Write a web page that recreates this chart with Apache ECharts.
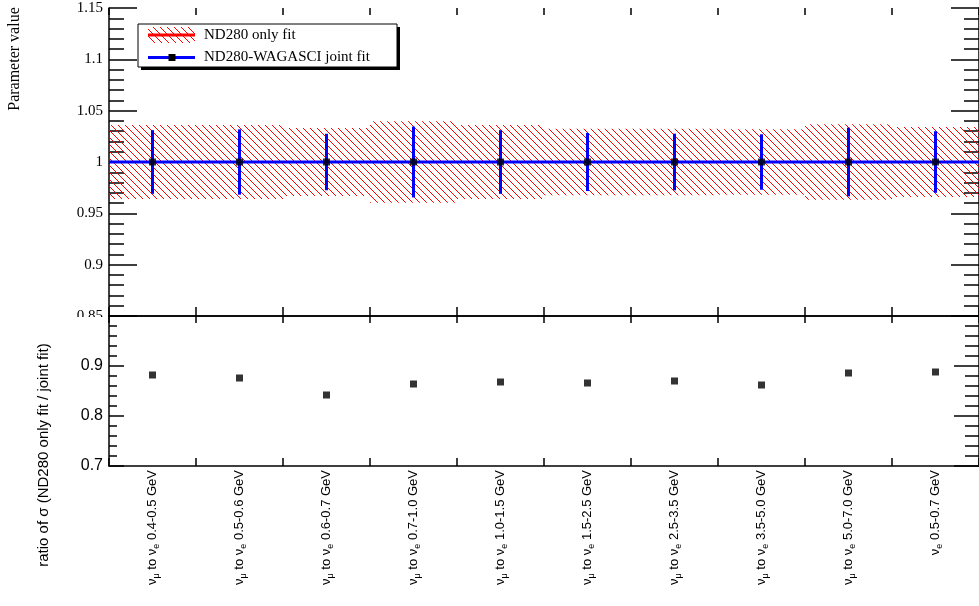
<!DOCTYPE html>
<html>
<head>
<meta charset="utf-8">
<script src="https://cdn.jsdelivr.net/npm/echarts@6/dist/echarts.min.js"></script>
<style>
html,body{margin:0;padding:0;background:#fff;}
#chart{width:979px;height:606px;}
</style>
</head>
<body>
<div id="chart"></div>
<script>
// ---- data ----
const categories = [
  'ν_μ to ν_e 0.4-0.5 GeV', 'ν_μ to ν_e 0.5-0.6 GeV', 'ν_μ to ν_e 0.6-0.7 GeV',
  'ν_μ to ν_e 0.7-1.0 GeV', 'ν_μ to ν_e 1.0-1.5 GeV', 'ν_μ to ν_e 1.5-2.5 GeV',
  'ν_μ to ν_e 2.5-3.5 GeV', 'ν_μ to ν_e 3.5-5.0 GeV', 'ν_μ to ν_e 5.0-7.0 GeV',
  'ν_e 0.5-0.7 GeV'
];
const central = [1, 1, 1, 1, 1, 1, 1, 1, 1, 1];
const nd280Err = [0.036, 0.036, 0.033, 0.0397, 0.036, 0.0325, 0.0325, 0.032, 0.0368, 0.034];
const jointErr = [0.031, 0.0318, 0.0275, 0.0345, 0.031, 0.0283, 0.0276, 0.027, 0.0335, 0.030];
const ratio = [0.882, 0.876, 0.842, 0.864, 0.868, 0.866, 0.870, 0.862, 0.886, 0.888];
const topTicks = { min: 0.85, max: 1.15, step: 0.05 };
const botTicks = { min: 0.7, max: 1.0, step: 0.1 };
const legendNames = ['ND280 only fit', 'ND280-WAGASCI joint fit'];
const yTitleTop = 'Parameter value';
const yTitleBottom = 'ratio of σ (ND280 only fit / joint fit)';

// ---- hatch pattern ----
function makeHatch() {
  const n = 7;
  const cv = document.createElement('canvas');
  cv.width = n; cv.height = n;
  const ctx = cv.getContext('2d');
  ctx.fillStyle = '#ff0000';
  for (let i = 0; i < n; i++) ctx.fillRect(i, i, 1, 1);
  return cv;
}
const hatchCanvas = makeHatch();
const hatch = { image: hatchCanvas, repeat: 'repeat' };

const SERIF = '"Liberation Serif", "DejaVu Serif", serif';
const SANS = '"Liberation Sans", Arial, sans-serif';

function richLabel(s) {
  const parts = s.split(/_(.)/);
  return parts.map((p, i) => (i % 2 ? '{s|' + p + '}' : (p ? '{v|' + p + '}' : ''))).join('');
}

const chart = echarts.init(document.getElementById('chart'), null, { renderer: 'canvas' });

const L = 109, W = 874;
const grids = [
  { left: L, top: 8, width: W, height: 308 },
  { left: L, top: 316, width: W, height: 150 }
];

const axisLineStyle = { color: '#000', width: 1.5 };

function catAxis(gi, pos, tickLen, labels) {
  return {
    type: 'category', gridIndex: gi, position: pos, data: categories,
    boundaryGap: true,
    axisLine: { show: true, lineStyle: axisLineStyle },
    axisTick: { show: true, inside: true, interval: 0, length: tickLen, alignWithLabel: false, lineStyle: { color: '#000', width: 1.5 } },
    axisLabel: labels ? {
      show: true, rotate: 90, margin: 4, interval: 0,
      formatter: richLabel,
      rich: {
        v: { fontFamily: SANS, fontSize: 13, color: '#000', lineHeight: 17, verticalAlign: 'middle' },
        s: { fontFamily: SANS, fontSize: 9, color: '#000', lineHeight: 8, verticalAlign: 'bottom' }
      }
    } : { show: false, interval: 0 },
    splitLine: { show: false }
  };
}

function valAxis(gi, pos, t, major, minor, labelOpt, showLine) {
  return {
    type: 'value', gridIndex: gi, position: pos,
    min: t.min, max: t.max, interval: t.step,
    axisLine: { show: showLine, lineStyle: axisLineStyle },
    axisTick: { show: true, inside: true, length: major, lineStyle: { color: '#000', width: 1.5 } },
    minorTick: { show: true, splitNumber: 5, length: minor, lineStyle: { color: '#000', width: 1.5 } },
    axisLabel: labelOpt,
    splitLine: { show: false },
    minorSplitLine: { show: false }
  };
}

const option = {
  animation: false,
  backgroundColor: '#fff',
  grid: grids,
  xAxis: [
    catAxis(0, 'bottom', 9, false),
    Object.assign(catAxis(0, 'top', 7, false), { axisLine: { show: false } }),
    catAxis(1, 'bottom', 8, true),
    catAxis(1, 'top', 7, false)
  ],
  yAxis: [
    valAxis(0, 'left', topTicks, 28, 15, {
      show: true, margin: 6, fontFamily: SERIF, fontSize: 15, color: '#000',
      formatter: v => String(+(+v).toFixed(2))
    }, true),
    valAxis(0, 'right', topTicks, 28, 15, { show: false }, true),
    valAxis(1, 'left', botTicks, 15, 8, {
      show: true, margin: 6, fontFamily: SANS, fontSize: 16, color: '#000',
      formatter: v => (v > 0.999 ? '' : (+v).toFixed(1))
    }, true),
    valAxis(1, 'right', botTicks, 25, 14, { show: false }, true)
  ],
  series: [
    {
      name: legendNames[0], type: 'custom', xAxisIndex: 0, yAxisIndex: 0, clip: true, z: 2,
      data: categories.map((c, i) => [i, central[i] - nd280Err[i], central[i] + nd280Err[i]]),
      renderItem: function (params, api) {
        const idx = api.value(0);
        const pLo = api.coord([idx, api.value(1)]);
        const pHi = api.coord([idx, api.value(2)]);
        const w = api.size([1, 0])[0];
        return {
          type: 'rect',
          shape: { x: pLo[0] - w / 2, y: pHi[1], width: w, height: pLo[1] - pHi[1] },
          style: { fill: hatch, stroke: null }
        };
      }
    },
    {
      name: legendNames[1], type: 'custom', xAxisIndex: 0, yAxisIndex: 0, clip: true, z: 3,
      data: categories.map((c, i) => [i, central[i], central[i] - jointErr[i], central[i] + jointErr[i]]),
      renderItem: function (params, api) {
        const idx = api.value(0);
        const c = api.coord([idx, api.value(1)]);
        const pLo = api.coord([idx, api.value(2)]);
        const pHi = api.coord([idx, api.value(3)]);
        const w = api.size([1, 0])[0];
        return {
          type: 'group',
          children: [
            { type: 'line', shape: { x1: c[0] - w / 2, y1: c[1], x2: c[0] + w / 2, y2: c[1] }, style: { stroke: '#0000ff', lineWidth: 3 } },
            { type: 'line', shape: { x1: c[0], y1: pHi[1], x2: c[0], y2: pLo[1] }, style: { stroke: '#0000ff', lineWidth: 3 } }
          ]
        };
      }
    },
    {
      type: 'scatter', xAxisIndex: 0, yAxisIndex: 0, z: 4,
      symbol: 'rect', symbolSize: 7,
      itemStyle: { color: '#000' },
      data: categories.map((c, i) => [i, central[i]])
    },
    {
      type: 'scatter', xAxisIndex: 2, yAxisIndex: 2, z: 4,
      symbol: 'rect', symbolSize: 7,
      itemStyle: { color: '#000' },
      data: categories.map((c, i) => [i, ratio[i]])
    }
  ],
  graphic: [
    // hide lower half of the 0.85 label (covered by lower pad)
    { type: 'rect', z: 100, shape: { x: 55, y: 317, width: 52, height: 14 }, style: { fill: '#fff' } },
    // axis titles
    { type: 'text', z: 100, x: 15, y: 59, rotation: Math.PI / 2,
      style: { text: yTitleTop, font: '16px ' + SERIF, fill: '#000', align: 'center', verticalAlign: 'middle' } },
    { type: 'text', z: 100, x: 44, y: 455, rotation: Math.PI / 2,
      style: { text: yTitleBottom, font: '15px ' + SANS, fill: '#000', align: 'center', verticalAlign: 'middle' } },
    // legend box with shadow
    { type: 'rect', z: 100, shape: { x: 141, y: 27, width: 259, height: 43 }, style: { fill: '#000' } },
    { type: 'rect', z: 101, shape: { x: 138, y: 24, width: 259, height: 43 }, style: { fill: '#fff', stroke: '#000', lineWidth: 1 } },
    { type: 'rect', z: 102, shape: { x: 148, y: 27, width: 47, height: 16 }, style: { fill: hatch, stroke: null } },
    { type: 'line', z: 103, shape: { x1: 148, y1: 35, x2: 195, y2: 35 }, style: { stroke: '#ff0000', lineWidth: 3 } },
    { type: 'text', z: 103, x: 204, y: 35,
      style: { text: legendNames[0], font: '15px ' + SERIF, fill: '#000', align: 'left', verticalAlign: 'middle' } },
    { type: 'line', z: 103, shape: { x1: 148, y1: 57.5, x2: 195, y2: 57.5 }, style: { stroke: '#0000ff', lineWidth: 3 } },
    { type: 'rect', z: 104, shape: { x: 168.5, y: 54, width: 7, height: 7 }, style: { fill: '#000' } },
    { type: 'text', z: 103, x: 204, y: 57.5,
      style: { text: legendNames[1], font: '15px ' + SERIF, fill: '#000', align: 'left', verticalAlign: 'middle' } }
  ]
};

chart.setOption(option);
</script>
</body>
</html>
